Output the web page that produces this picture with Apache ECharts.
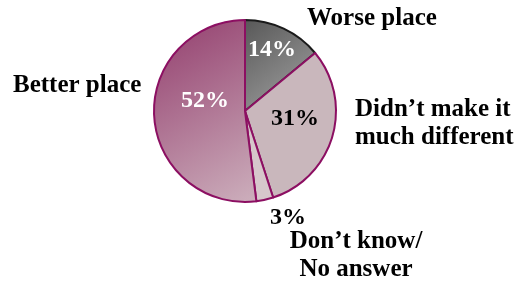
<!DOCTYPE html>
<html>
<head>
<meta charset="utf-8">
<script src="https://cdn.jsdelivr.net/npm/echarts@6/dist/echarts.min.js"></script>
<style>
  html, body { margin: 0; padding: 0; background: #fff; }
  #chart { width: 527px; height: 287px; }
</style>
</head>
<body>
<div id="chart"></div>
<script>
// answers, clockwise from 12 o'clock
var categories = ['Worse place', 'Didn\u2019t make it\nmuch different', 'Don\u2019t know/\nNo answer', 'Better place']
var values = [14, 31, 3, 52]
var pctLabels = ['14%', '31%', '3%', '52%']

// where each text sits (label anchors)
var pctPos = [[272, 50, 'center'], [295, 119, 'center'], [288, 218, 'center'], [205, 101, 'center']]
var namePos = [[307, 19, 'left'], [355, 124, 'left'], [356, 256, 'center'], [13, 86, 'left']]
var pctColors = ['#fff', '#000', '#000', '#fff']

var fills = [
  new echarts.graphic.LinearGradient(0, 0, 1, 1, [{ offset: 0, color: '#575757' }, { offset: 1, color: '#a6a6a6' }]),
  '#c9b7bc',
  '#d6c7cb',
  new echarts.graphic.LinearGradient(0, 0, 1, 1, [{ offset: 0, color: '#923c6c' }, { offset: 1, color: '#cdb0bd' }])
]
var borders = ['#1a1a1a', '#8c0f62', '#8c0f62', '#8c0f62']

var font = '"Liberation Serif", "Times New Roman", serif'

var chart = echarts.init(document.getElementById('chart'))

chart.setOption({
  animation: false,
  series: [
    {
      type: 'pie',
      center: [245, 111],
      radius: 91,
      startAngle: 90,
      clockwise: true,
      silent: true,
      itemStyle: {
        borderColor: '#8c0f62',
        borderWidth: 2
      },
      label: {
        show: true,
        position: 'inside',
        fontFamily: font,
        fontWeight: 'bold',
        fontSize: 24,
        formatter: function (p) { return pctLabels[p.dataIndex] }
      },
      labelLine: { show: false },
      labelLayout: function (p) {
        var pos = pctPos[p.dataIndex]
        return { x: pos[0], y: pos[1], align: pos[2], verticalAlign: 'middle' }
      },
      data: values.map(function (v, i) {
        return {
          value: v,
          name: categories[i],
          itemStyle: { color: fills[i], borderColor: borders[i] },
          label: { color: pctColors[i] }
        }
      })
    },
    {
      // invisible copy, only carries the category names
      type: 'pie',
      center: [245, 111],
      radius: 91,
      startAngle: 90,
      clockwise: true,
      silent: true,
      z: 3,
      itemStyle: { color: 'rgba(0,0,0,0)', borderWidth: 0 },
      label: {
        show: true,
        position: 'inside',
        color: '#000',
        fontFamily: font,
        fontWeight: 'bold',
        fontSize: 25,
        lineHeight: 28,
        formatter: '{b}'
      },
      labelLine: { show: false },
      labelLayout: function (p) {
        var pos = namePos[p.dataIndex]
        return { x: pos[0], y: pos[1], align: pos[2], verticalAlign: 'middle' }
      },
      data: values.map(function (v, i) {
        return { value: v, name: categories[i] }
      })
    }
  ]
})
</script>
</body>
</html>
